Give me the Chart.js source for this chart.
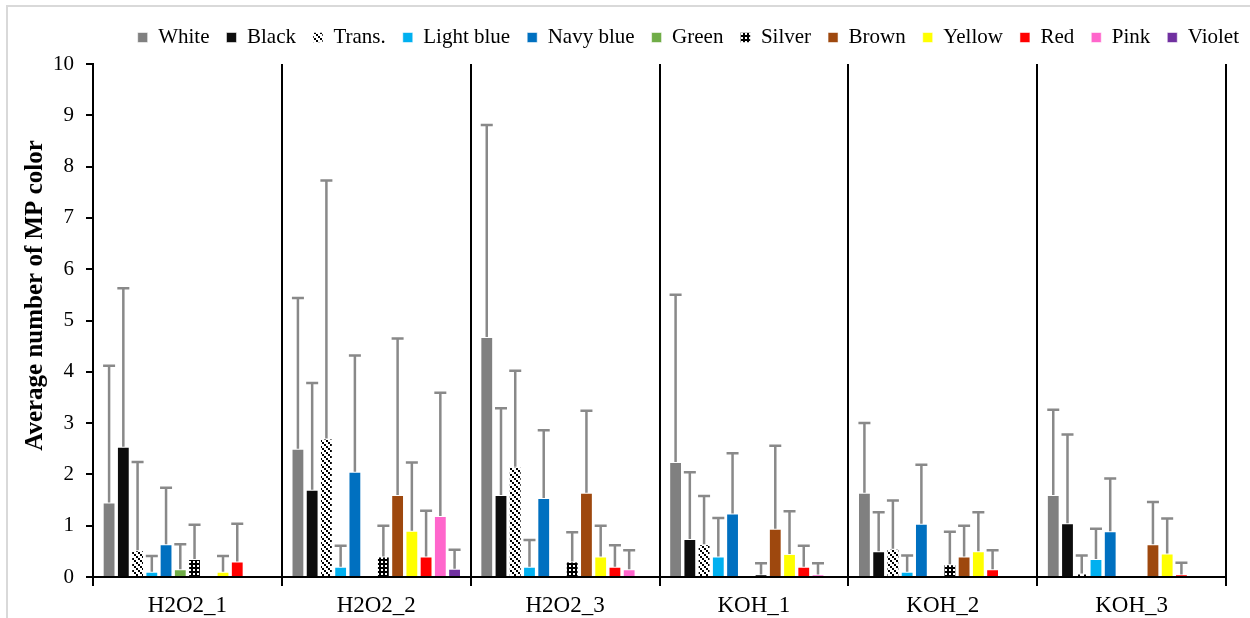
<!DOCTYPE html>
<html>
<head>
<meta charset="utf-8">
<script src="https://cdn.jsdelivr.net/npm/chart.js@4.4.1/dist/chart.umd.min.js"></script>
<style>
  html, body { margin: 0; padding: 0; background: #fff; }
  #wrap { position: relative; width: 1250px; height: 618px; overflow: hidden; }
  #frame { position: absolute; left: 6px; top: 5px; width: 1300px; height: 700px;
           border-left: 2px solid #d9d9d9; border-top: 2px solid #d9d9d9; }
  #chart { position: absolute; left: 0; top: 0; }
</style>
</head>
<body>
<div id="wrap">
  <div id="frame"></div>
  <canvas id="chart" width="1250" height="618"></canvas>
</div>
<script>
// groups on the x axis
const groups = ['H2O2_1', 'H2O2_2', 'H2O2_3', 'KOH_1', 'KOH_2', 'KOH_3'];

// mean values per colour
const white     = [1.45, 2.50, 4.68, 2.24, 1.64, 1.60];
const black     = [2.54, 1.70, 1.60, 0.74, 0.50, 1.05];
const trans     = [0.52, 2.70, 2.15, 0.64, 0.55, 0.07];
const lightBlue = [0.10, 0.20, 0.20, 0.40, 0.10, 0.35];
const navyBlue  = [0.64, 2.05, 1.54, 1.24, 1.04, 0.89];
const green     = [0.15, 0, 0, 0, 0, 0];
const silver    = [0.35, 0.40, 0.30, 0.05, 0.25, 0];
const brown     = [0, 1.60, 1.64, 0.94, 0.40, 0.64];
const yellow    = [0.10, 0.90, 0.40, 0.45, 0.50, 0.46];
const red       = [0.30, 0.40, 0.20, 0.20, 0.15, 0.05];
const pink      = [0, 1.19, 0.15, 0.05, 0, 0];
const violet    = [0, 0.16, 0, 0, 0, 0];

// standard deviations (upper error bars)
const whiteSd     = [2.67, 2.94, 4.13, 3.26, 1.36, 1.66];
const blackSd     = [3.09, 2.08, 1.69, 1.30, 0.76, 1.73];
const transSd     = [1.72, 5.03, 1.87, 0.94, 0.94, 0.35];
const lightBlueSd = [0.31, 0.41, 0.52, 0.75, 0.32, 0.59];
const navyBlueSd  = [1.10, 2.27, 1.32, 1.17, 1.15, 1.03];
const greenSd     = [0.49, 0, 0, 0, 0, 0];
const silverSd    = [0.67, 0.60, 0.57, 0.22, 0.63, 0];
const brownSd     = [0, 3.05, 1.60, 1.62, 0.60, 0.82];
const yellowSd    = [0.31, 1.33, 0.60, 0.83, 0.76, 0.68];
const redSd       = [0.74, 0.89, 0.42, 0.41, 0.37, 0.23];
const pinkSd      = [0, 2.40, 0.37, 0.22, 0, 0];
const violetSd    = [0, 0.37, 0, 0, 0, 0];

// tick labels of the value axis
const yTicks = [0, 1, 2, 3, 4, 5, 6, 7, 8, 9, 10];

// hatch fills
function transPattern() {
  const c = document.createElement('canvas');
  c.width = 6; c.height = 6;
  const g = c.getContext('2d');
  g.fillStyle = '#fff'; g.fillRect(0, 0, 6, 6);
  g.fillStyle = '#000';
  g.fillRect(0, 0, 2, 2);
  g.fillRect(2, 2, 2, 2);
  g.fillRect(4, 4, 2, 2);
  return g.createPattern(c, 'repeat');
}
function silverPattern() {
  const c = document.createElement('canvas');
  c.width = 4; c.height = 4;
  const g = c.getContext('2d');
  g.fillStyle = '#000'; g.fillRect(0, 0, 4, 4);
  g.fillStyle = '#fff'; g.fillRect(1, 1, 2, 2);
  return g.createPattern(c, 'repeat');
}

const series = [
  ['White', white, whiteSd, '#808080'],
  ['Black', black, blackSd, '#0d0d0d'],
  ['Trans.', trans, transSd, transPattern()],
  ['Light blue', lightBlue, lightBlueSd, '#00b0f0'],
  ['Navy blue', navyBlue, navyBlueSd, '#0070c0'],
  ['Green', green, greenSd, '#70ad47'],
  ['Silver', silver, silverSd, silverPattern()],
  ['Brown', brown, brownSd, '#9e480e'],
  ['Yellow', yellow, yellowSd, '#ffff00'],
  ['Red', red, redSd, '#ff0000'],
  ['Pink', pink, pinkSd, '#ff66cc'],
  ['Violet', violet, violetSd, '#7030a0']
];

// draws the grey upper error bars
const errorBars = {
  id: 'errorBars',
  afterDatasetsDraw(chart) {
    const ctx = chart.ctx;
    const y = chart.scales.y;
    ctx.save();
    ctx.strokeStyle = '#898989';
    ctx.lineWidth = 2.5;
    chart.data.datasets.forEach((ds, i) => {
      const meta = chart.getDatasetMeta(i);
      meta.data.forEach((bar, j) => {
        const sd = ds.sd[j];
        if (!sd) return;
        const top = y.getPixelForValue(ds.data[j] + sd);
        ctx.beginPath();
        ctx.moveTo(bar.x, bar.y);
        ctx.lineTo(bar.x, top);
        ctx.moveTo(bar.x - 6, top);
        ctx.lineTo(bar.x + 6, top);
        ctx.stroke();
      });
    });
    ctx.restore();
  }
};

const serif = 'Liberation Serif, Times New Roman, serif';

new Chart(document.getElementById('chart'), {
  type: 'bar',
  data: {
    labels: groups,
    datasets: series.map(s => ({
      label: s[0],
      data: s[1],
      sd: s[2],
      backgroundColor: s[3],
      borderColor: 'rgba(255,255,255,0.55)',
      borderWidth: 1,
      categoryPercentage: 0.905,
      barPercentage: 0.9
    }))
  },
  options: {
    responsive: false,
    animation: false,
    layout: { padding: { left: 0, right: -6, top: 10, bottom: 0 } },
    plugins: {
      tooltip: { enabled: false },
      legend: {
        position: 'top',
        align: 'end',
        labels: {
          boxWidth: 10,
          boxHeight: 10,
          padding: 17,
          color: '#000',
          font: { family: serif, size: 21 }
        }
      }
    },
    scales: {
      x: {
        grid: { color: '#000', lineWidth: 2, tickLength: 9, offset: true },
        border: { color: '#000', width: 2 },
        ticks: { color: '#000', padding: 6, font: { family: serif, size: 23 } },
        afterFit(scale) { scale.height = 41; }
      },
      xTop: {
        position: 'top',
        display: true,
        grid: { display: false },
        border: { display: false },
        ticks: { display: false },
        afterFit(scale) { scale.height = 6; }
      },
      y: {
        min: 0,
        max: 10,
        afterBuildTicks(scale) { scale.ticks = yTicks.map(v => ({ value: v })); },
        grid: { drawOnChartArea: false, color: '#000', lineWidth: 2, tickLength: 7 },
        border: { color: '#000', width: 2 },
        ticks: { color: '#000', padding: 12, font: { family: serif, size: 21 } },
        title: {
          display: true,
          text: '\u00a0\u00a0\u00a0\u00a0\u00a0\u00a0\u00a0\u00a0Average number of MP color',
          color: '#000',
          padding: { top: 21, bottom: 0 },
          font: { family: serif, size: 25, weight: 'bold' }
        },
        afterFit(scale) { scale.width = 93; }
      },
      y2: {
        position: 'right',
        display: true,
        grid: { display: false },
        border: { display: false },
        ticks: { display: false },
        afterFit(scale) { scale.width = 30; }
      }
    }
  },
  plugins: [errorBars]
});
</script>
</body>
</html>
